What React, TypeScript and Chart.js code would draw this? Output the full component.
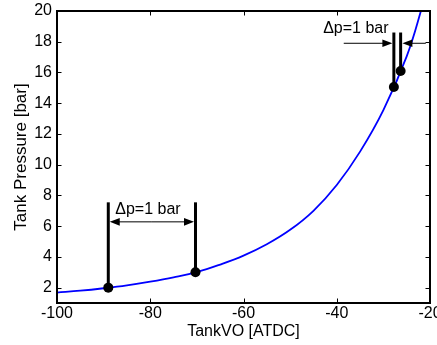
import React, { useEffect, useRef } from "react";
import { Chart, registerables } from "chart.js";
Chart.register(...registerables);

// Pressure curve
const curveX = [-100, -95, -90, -85, -80, -75, -70, -65, -60, -55, -50, -45, -40, -35, -30, -25, -22, -20];
const curveY = [1.68, 1.8, 1.96, 2.15, 2.39, 2.67, 3.01, 3.5, 4.08, 4.82, 5.76, 7.0, 8.68, 10.85, 13.55, 17.05, 19.95, 22.3];

// Marked points and vertical bars
const markerX = [-89.0, -70.3, -27.75, -26.3];
const markerY = [2.0, 3.0, 15.05, 16.1];
const barTopY = [7.55, 7.55, 18.6, 18.6];

// Arrows (start -> tip)
const arrowFromX = [-79.65, -79.65, -38.5, -20.9];
const arrowToX = [-88.68, -70.62, -28.07, -25.92];
const arrowY = [6.28, 6.28, 17.9, 17.9];

// Annotation texts
const labelText = ["\u0394p=1 bar", "\u0394p=1 bar"];
const labelX = [-80.5, -35.9];
const labelY = [7.1, 18.83];

// Axes
const xTicks = [-100, -80, -60, -40, -20];
const yTicks = [2, 4, 6, 8, 10, 12, 14, 16, 18, 20];
const xMin = -100, xMax = -20, yMin = 1, yMax = 20;
const xTitle = "TankVO [ATDC]";
const yTitle = "Tank Pressure [bar]";

const FONT = "'Liberation Sans', Arial, Helvetica, sans-serif";

export default function App() {
  const ref = useRef<HTMLCanvasElement | null>(null);
  useEffect(() => {
    document.body.style.margin = "0";
    const canvas = ref.current!;
    const annotPlugin = {
      id: "annot",
      afterDatasetsDraw(chart: any) {
        const ctx = chart.ctx;
        const xs = chart.scales.x, ys = chart.scales.y;
        ctx.save();
        ctx.strokeStyle = "#000";
        ctx.fillStyle = "#000";
        ctx.lineWidth = 1;
        for (let i = 0; i < arrowY.length; i++) {
          const x0 = xs.getPixelForValue(arrowFromX[i]);
          const x1 = xs.getPixelForValue(arrowToX[i]);
          const y = ys.getPixelForValue(arrowY[i]);
          const dir = Math.sign(x1 - x0);
          ctx.beginPath();
          ctx.moveTo(x0, y);
          ctx.lineTo(x1 - dir * 4, y);
          ctx.stroke();
          ctx.beginPath();
          ctx.moveTo(x1, y);
          ctx.lineTo(x1 - dir * 10, y - 3.8);
          ctx.lineTo(x1 - dir * 10, y + 3.8);
          ctx.closePath();
          ctx.fill();
        }
        ctx.font = "16px " + FONT;
        ctx.textAlign = "center";
        ctx.textBaseline = "middle";
        for (let i = 0; i < labelText.length; i++) {
          ctx.fillText(labelText[i], xs.getPixelForValue(labelX[i]), ys.getPixelForValue(labelY[i]));
        }
        ctx.restore();
      },
      afterDraw(chart: any) {
        const ctx = chart.ctx;
        const { left, right, top, bottom } = chart.chartArea;
        const xs = chart.scales.x, ys = chart.scales.y;
        ctx.save();
        ctx.strokeStyle = "#000";
        ctx.lineWidth = 1;
        const tl = 4.5;
        ctx.beginPath();
        for (const v of xTicks) {
          const p = Math.round(xs.getPixelForValue(v)) + 0.5;
          ctx.moveTo(p, bottom); ctx.lineTo(p, bottom - tl);
          ctx.moveTo(p, top); ctx.lineTo(p, top + tl);
        }
        for (const v of yTicks) {
          const p = Math.round(ys.getPixelForValue(v)) + 0.5;
          ctx.moveTo(left, p); ctx.lineTo(left + tl, p);
          ctx.moveTo(right, p); ctx.lineTo(right - tl, p);
        }
        ctx.stroke();
        ctx.lineWidth = 2;
        ctx.strokeRect(left, top, right - left, bottom - top);
        ctx.restore();
      },
    };

    const barSets = markerX.map((x, i) => ({
      data: [{ x, y: markerY[i] }, { x, y: barTopY[i] }],
      borderColor: "#000",
      borderWidth: 3,
      pointRadius: 0,
      showLine: true,
      fill: false,
    }));

    const chart = new Chart(canvas, {
      type: "line",
      data: {
        datasets: [
          {
            data: markerX.map((x, i) => ({ x, y: markerY[i] })),
            showLine: false,
            pointRadius: 5,
            pointBackgroundColor: "#000",
            pointBorderColor: "#000",
            pointBorderWidth: 0,
            borderColor: "#000",
          },
          ...barSets,
          {
            data: curveX.map((x, i) => ({ x, y: curveY[i] })),
            borderColor: "#0000ff",
            borderWidth: 1.8,
            pointRadius: 0,
            tension: 0.4,
            fill: false,
          },
        ],
      } as any,
      options: {
        responsive: false,
        animation: false,
        devicePixelRatio: 1,
        layout: { padding: { top: 11, right: 7, left: 0, bottom: 0 } },
        plugins: { legend: { display: false }, tooltip: { enabled: false } },
        scales: {
          x: {
            type: "linear",
            min: xMin,
            max: xMax,
            grid: { display: false, drawTicks: false },
            border: { display: false },
            afterBuildTicks: (s: any) => { s.ticks = xTicks.map((v) => ({ value: v })); },
            afterFit: (s: any) => { s.height = 42; s.paddingLeft = 0; s.paddingRight = 0; },
            ticks: { color: "#000", padding: 1, maxRotation: 0, autoSkip: false, font: { family: FONT, size: 16 } },
            title: { display: true, text: xTitle, color: "#000", padding: { top: 0, bottom: 3.4 }, font: { family: FONT, size: 16 } },
          },
          y: {
            type: "linear",
            min: yMin,
            max: yMax,
            grid: { display: false, drawTicks: false },
            border: { display: false },
            afterBuildTicks: (s: any) => { s.ticks = yTicks.map((v) => ({ value: v })); },
            afterFit: (s: any) => { s.width = 57; s.paddingTop = 0; s.paddingBottom = 0; },
            ticks: { color: "#000", padding: 5, autoSkip: false, font: { family: FONT, size: 16 } },
            title: { display: true, text: yTitle, color: "#000", padding: { top: 11.5, bottom: 0 }, font: { family: FONT, size: 17 } },
          },
        },
      } as any,
      plugins: [annotPlugin],
    });
    return () => chart.destroy();
  }, []);

  return (
    <div style={{ position: "absolute", left: 0, top: 0, width: 437, height: 345, background: "#fff" }}>
      <canvas ref={ref} width={437} height={345} />
    </div>
  );
}
